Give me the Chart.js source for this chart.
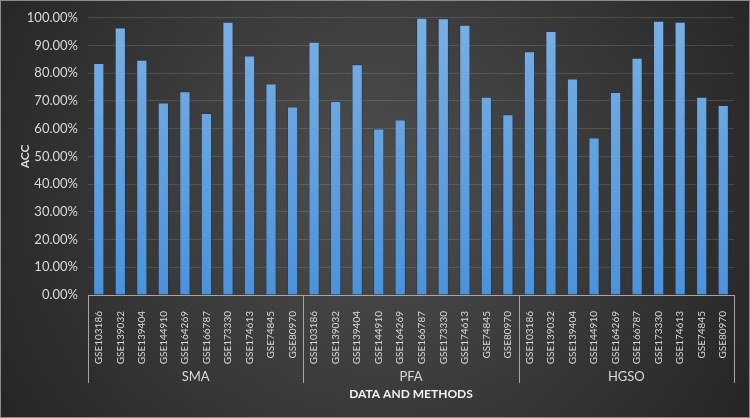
<!DOCTYPE html>
<html lang="en">
<head>
<meta charset="utf-8">
<script src="https://cdn.jsdelivr.net/npm/chart.js@4.4.1/dist/chart.umd.min.js"></script>
<title>ACC</title>
<style>
  html, body { margin: 0; padding: 0; background: #222; }
  #wrap { position: relative; width: 750px; height: 418px; }
</style>
</head>
<body>
<div id="wrap"><canvas id="c" width="750" height="418"></canvas></div>
<script>
// data
var datasetsNames = ["GSE103186", "GSE139032", "GSE139404", "GSE144910", "GSE164269",
                     "GSE166787", "GSE173330", "GSE174613", "GSE74845", "GSE80970"];
var methods = ["SMA", "PFA", "HGSO"];
var smaAcc  = [83.7, 96.5, 84.9, 69.4, 73.5, 65.7, 98.6, 86.4, 76.3, 68.0];
var pfaAcc  = [91.4, 70.0, 83.2, 60.1, 63.3, 100.0, 99.8, 97.5, 71.5, 65.2];
var hgsoAcc = [87.9, 95.2, 78.1, 56.8, 73.2, 85.6, 98.9, 98.6, 71.5, 68.5];
var yTicks = [0, 10, 20, 30, 40, 50, 60, 70, 80, 90, 100];

var labels = [].concat(datasetsNames, datasetsNames, datasetsNames);
var values = [].concat(smaAcc, pfaAcc, hgsoAcc);

var font = "Lato, 'Open Sans', sans-serif";
var txt = "#d9d9d9";

// background + frame
var bgPlugin = {
  id: "bg",
  beforeDraw: function(chart) {
    var c = chart.ctx, w = chart.width, h = chart.height;
    var g = c.createRadialGradient(w * 0.5, h * 0.45, 10, w * 0.5, h * 0.45, w * 0.6);
    g.addColorStop(0, "#4e4e4e");
    g.addColorStop(1, "#242424");
    c.save();
    c.fillStyle = g;
    c.fillRect(0, 0, w, h);
    c.strokeStyle = "#8c8c8c";
    c.lineWidth = 1;
    c.strokeRect(0.5, 0.5, w - 1, h - 1);
    c.restore();
  }
};

// method group labels and separators below the axis
var groupPlugin = {
  id: "groups",
  afterDraw: function(chart) {
    var x = chart.scales.x, c = chart.ctx;
    var y0 = chart.chartArea.bottom;
    var n = datasetsNames.length;
    var half = (x.getPixelForValue(1) - x.getPixelForValue(0)) / 2;
    c.save();
    c.strokeStyle = "#a6a6a6";
    c.lineWidth = 1;
    c.beginPath();
    c.moveTo(chart.chartArea.left, y0 + 0.5);
    c.lineTo(chart.chartArea.right, y0 + 0.5);
    for (var i = 0; i <= methods.length; i++) {
      var xp = i < methods.length ? x.getPixelForValue(i * n) - half : x.getPixelForValue(labels.length - 1) + half;
      xp = Math.round(xp) + 0.5;
      c.moveTo(xp, y0);
      c.lineTo(xp, y0 + 88);
    }
    c.stroke();
    c.fillStyle = txt;
    c.font = "13px " + font;
    c.textAlign = "center";
    c.textBaseline = "middle";
    methods.forEach(function(m, i) {
      var a = x.getPixelForValue(i * n) - half;
      var b = x.getPixelForValue(i * n + n - 1) + half;
      c.fillText(m, (a + b) / 2, y0 + 82);
    });
    c.restore();
  }
};

new Chart(document.getElementById("c"), {
  type: "bar",
  data: {
    labels: labels,
    datasets: [{
      label: "ACC",
      data: values,
      backgroundColor: function(ctx) {
        var ca = ctx.chart.chartArea;
        if (!ca) return "#5b9bd5";
        var g = ctx.chart.ctx.createLinearGradient(0, ca.top, 0, ca.bottom);
        g.addColorStop(0, "#7aafe3");
        g.addColorStop(1, "#4a93dc");
        return g;
      },
      borderColor: "rgba(30,55,90,0.55)",
      borderWidth: { top: 1, left: 1, right: 1, bottom: 0 },
      barPercentage: 1,
      categoryPercentage: 0.52
    }]
  },
  options: {
    responsive: false,
    animation: false,
    devicePixelRatio: 1,
    layout: { padding: { top: 15, right: 16, bottom: 14, left: 0 } },
    plugins: { legend: { display: false }, tooltip: { enabled: false } },
    scales: {
      y: {
        min: 0, max: 100,
        afterFit: function(s) { s.width = 88; },
        afterBuildTicks: function(s) { s.ticks = yTicks.map(function(v) { return { value: v }; }); },
        ticks: {
          color: txt, font: { family: font, size: 13 }, padding: 10,
          callback: function(v) { return v.toFixed(2) + "%"; }
        },
        grid: { color: "rgba(255,255,255,0.13)", drawTicks: false },
        border: { display: false },
        title: { display: true, text: "ACC", color: txt, font: { family: font, size: 12, weight: "bold" }, padding: { top: 18, bottom: 4 } }
      },
      x: {
        afterFit: function(s) { s.height = 418 - 295 - 14; },
        ticks: {
          color: txt, font: { family: font, size: 10 }, minRotation: 90, maxRotation: 90,
          autoSkip: false, padding: 8
        },
        grid: { display: false },
        border: { display: false },
        title: { display: true, text: "DATA AND METHODS", color: "#f2f2f2", font: { family: font, size: 12, weight: "bold" }, padding: { top: 0, bottom: 3 } }
      }
    }
  },
  plugins: [bgPlugin, groupPlugin]
});
</script>
</body>
</html>
